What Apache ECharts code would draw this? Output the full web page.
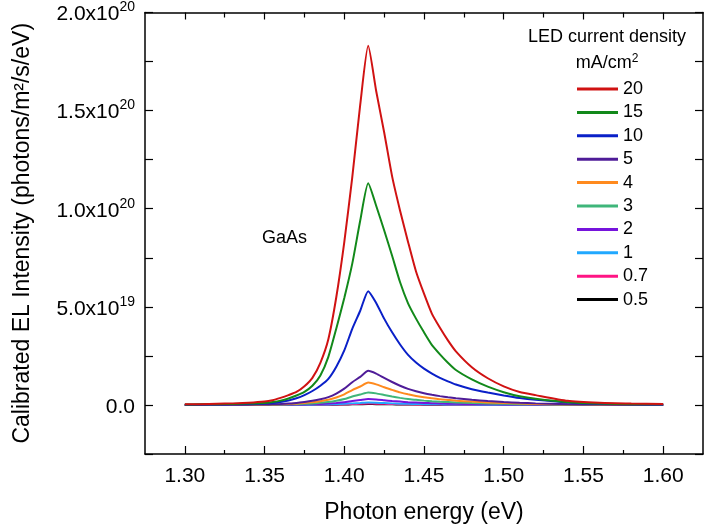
<!DOCTYPE html>
<html>
<head>
<meta charset="utf-8">
<title>GaAs calibrated electroluminescence spectra</title>
<script src="https://cdn.jsdelivr.net/npm/echarts@6/dist/echarts.min.js"></script>
<style>
  html, body { margin: 0; padding: 0; background: #fff; }
  #chart { width: 710px; height: 529px; }
</style>
</head>
<body>
<div id="chart"></div>
<script>
// Photon energy grid (eV): fine steps across the emission peak
const energy = [1.300, 1.310, 1.320, 1.330, 1.340, 1.350,
                1.355, 1.360, 1.365, 1.370, 1.375, 1.380, 1.385, 1.390, 1.395, 1.400,
                1.405, 1.410, 1.415, 1.420, 1.425, 1.430, 1.435, 1.440, 1.445, 1.450,
                1.455, 1.460, 1.465, 1.470,
                1.480, 1.490, 1.500, 1.510, 1.520, 1.540, 1.560, 1.580, 1.600];

// Calibrated EL intensity, in units of 1e19 photons/m^2/s/eV
const j20 = [0.03, 0.04, 0.06, 0.08, 0.11, 0.17,
             0.24, 0.36, 0.5, 0.66, 0.95, 1.38, 2.15, 3.35, 5.5, 8.3,
             11.6, 15.3, 18.3, 16.0, 13.9, 11.65, 9.9, 8.31, 6.8, 5.67,
             4.64, 3.93, 3.29, 2.73,
             1.92, 1.36, 0.95, 0.66, 0.5, 0.21, 0.11, 0.07, 0.05];
const j15 = [0.02, 0.03, 0.04, 0.05, 0.07, 0.1,
             0.15, 0.22, 0.33, 0.48, 0.67, 0.98, 1.5, 2.45, 3.9, 5.45,
             7.2, 9.4, 11.3, 10.15, 8.9, 7.6, 6.25, 5.18, 4.4, 3.7,
             3.05, 2.58, 2.15, 1.78,
             1.3, 0.93, 0.65, 0.44, 0.31, 0.14, 0.07, 0.04, 0.03];
const j10 = [0.01, 0.015, 0.02, 0.03, 0.05, 0.07,
             0.1, 0.15, 0.23, 0.34, 0.5, 0.71, 0.98, 1.33, 1.95, 2.78,
             3.88, 4.8, 5.8, 5.2, 4.4, 3.7, 3.08, 2.55, 2.16, 1.85,
             1.6, 1.38, 1.2, 1.04,
             0.8, 0.63, 0.48, 0.35, 0.26, 0.13, 0.06, 0.03, 0.02];
const j5 = [0.0, 0.004, 0.006, 0.009, 0.015, 0.021,
            0.03, 0.045, 0.07, 0.1, 0.15, 0.21, 0.29, 0.4, 0.58, 0.83,
            1.16, 1.43, 1.74, 1.6, 1.38, 1.17, 0.98, 0.82, 0.7, 0.6,
            0.52, 0.45, 0.39, 0.34,
            0.26, 0.2, 0.15, 0.11, 0.08, 0.04, 0.02, 0.01, 0.01];
const j4 = [0.0, 0.003, 0.004, 0.006, 0.01, 0.014,
            0.02, 0.03, 0.046, 0.066, 0.098, 0.14, 0.19, 0.26, 0.38, 0.54,
            0.76, 0.94, 1.14, 1.05, 0.9, 0.77, 0.64, 0.54, 0.46, 0.39,
            0.34, 0.29, 0.255, 0.22,
            0.17, 0.13, 0.1, 0.072, 0.052, 0.026, 0.013, 0.007, 0.007];
const j3 = [0.0, 0.001, 0.002, 0.003, 0.006, 0.008,
            0.011, 0.017, 0.026, 0.037, 0.055, 0.077, 0.107, 0.147, 0.21, 0.3,
            0.43, 0.53, 0.64, 0.59, 0.51, 0.43, 0.36, 0.3, 0.26, 0.22,
            0.19, 0.165, 0.145, 0.125,
            0.096, 0.074, 0.055, 0.04, 0.03, 0.015, 0.007, 0.004, 0.004];
const j2 = [0.0, 0.001, 0.001, 0.002, 0.003, 0.004,
            0.005, 0.008, 0.012, 0.017, 0.026, 0.036, 0.05, 0.069, 0.1, 0.14,
            0.2, 0.25, 0.3, 0.28, 0.24, 0.2, 0.17, 0.14, 0.12, 0.1,
            0.09, 0.077, 0.067, 0.058,
            0.045, 0.034, 0.026, 0.019, 0.014, 0.007, 0.003, 0.002, 0.002];
const j1 = [0.0, 0.0, 0.001, 0.001, 0.001, 0.002,
            0.002, 0.003, 0.005, 0.007, 0.01, 0.015, 0.02, 0.028, 0.04, 0.057,
            0.08, 0.1, 0.12, 0.11, 0.095, 0.08, 0.067, 0.057, 0.048, 0.041,
            0.036, 0.031, 0.027, 0.023,
            0.018, 0.014, 0.01, 0.008, 0.006, 0.003, 0.001, 0.001, 0.001];
const j07 = [0.0, 0.0, 0.0, 0.0, 0.001, 0.001,
             0.001, 0.002, 0.003, 0.004, 0.006, 0.009, 0.012, 0.016, 0.023, 0.033,
             0.046, 0.058, 0.07, 0.064, 0.055, 0.047, 0.039, 0.033, 0.028, 0.024,
             0.021, 0.018, 0.016, 0.014,
             0.01, 0.008, 0.006, 0.004, 0.003, 0.002, 0.001, 0.0, 0.0];
const j05 = [0.0, 0.0, 0.0, 0.0, 0.0, 0.001,
             0.001, 0.001, 0.002, 0.003, 0.004, 0.006, 0.008, 0.01, 0.015, 0.021,
             0.03, 0.037, 0.045, 0.041, 0.036, 0.03, 0.025, 0.021, 0.018, 0.015,
             0.013, 0.011, 0.01, 0.009,
             0.007, 0.005, 0.004, 0.003, 0.002, 0.001, 0.001, 0.0, 0.0];

// Current densities (mA/cm^2), listed as in the legend
const densities = ['20', '15', '10', '5', '4', '3', '2', '1', '0.7', '0.5'];
const spectra = [j20, j15, j10, j5, j4, j3, j2, j1, j07, j05];
const colors = ['#d01212', '#12891a', '#0a20c8', '#4f1c98', '#ff8a1e',
                '#3fb67a', '#7614dc', '#20a8ff', '#ff1484', '#000000'];

// Axis ticks
const xMajor = [1.30, 1.35, 1.40, 1.45, 1.50, 1.55, 1.60];
const xMinor = [1.325, 1.375, 1.425, 1.475, 1.525, 1.575];
const xTickLabels = ['1.30', '1.35', '1.40', '1.45', '1.50', '1.55', '1.60'];
const yTicks = [-2.5, 0, 2.5, 5, 7.5, 10, 12.5, 15, 17.5, 20];
const yLabelValues = [0, 5, 10, 15, 20];
const yLabelMantissa = ['0.0', '5.0x10', '1.0x10', '1.5x10', '2.0x10'];
const yLabelExponent = ['', '19', '20', '20', '20'];

const FONT = '"Liberation Sans", Arial, Helvetica, sans-serif';
const AXIS_COLOR = '#000';

const chart = echarts.init(document.getElementById('chart'), null, { renderer: 'canvas' });

function frameAxis(position, ticks, len, showLine) {
  return {
    type: 'value', position: position, min: 1.275, max: 1.625,
    axisLine: { show: showLine, onZero: false, lineStyle: { color: AXIS_COLOR, width: 1.5 } },
    axisTick: { show: true, inside: true, length: len, customValues: ticks,
                lineStyle: { color: AXIS_COLOR, width: 1.2 } },
    axisLabel: { show: false },
    splitLine: { show: false }
  };
}

const xAxes = [
  {
    type: 'value', position: 'bottom', min: 1.275, max: 1.625,
    name: 'Photon energy (eV)', nameLocation: 'middle', nameGap: 47,
    nameTextStyle: { fontSize: 23, color: '#000', fontFamily: FONT },
    axisLine: { show: true, onZero: false, lineStyle: { color: AXIS_COLOR, width: 1.5 } },
    axisTick: { show: true, inside: true, length: 8, customValues: xMajor,
                lineStyle: { color: AXIS_COLOR, width: 1.2 } },
    axisLabel: {
      show: true, customValues: xMajor, margin: 12, fontSize: 21, color: '#000', fontFamily: FONT,
      formatter: function (v) {
        const i = xMajor.findIndex(function (t) { return Math.abs(t - v) < 1e-6; });
        return i >= 0 ? xTickLabels[i] : '';
      }
    },
    splitLine: { show: false }
  },
  frameAxis('bottom', xMinor, 4, false),
  frameAxis('top', xMajor, 7, true),
  frameAxis('top', xMinor, 5, false)
];

const yAxes = [
  {
    type: 'value', position: 'left', min: -2.5, max: 20,
    name: 'Calibrated EL Intensity (photons/m\u00B2/s/eV)', nameLocation: 'middle', nameGap: 111,
    nameTextStyle: { fontSize: 23, color: '#000', fontFamily: FONT },
    axisLine: { show: true, onZero: false, lineStyle: { color: AXIS_COLOR, width: 1.5 } },
    axisTick: { show: true, inside: true, length: 8, customValues: yTicks,
                lineStyle: { color: AXIS_COLOR, width: 1.2 } },
    axisLabel: {
      show: true, customValues: yLabelValues, margin: 10, color: '#000', fontFamily: FONT,
      formatter: function (v) {
        const i = yLabelValues.findIndex(function (t) { return Math.abs(t - v) < 1e-6; });
        if (i < 0) return '';
        return yLabelExponent[i] ? '{m|' + yLabelMantissa[i] + '}{e|' + yLabelExponent[i] + '}'
                                 : '{m|' + yLabelMantissa[i] + '}';
      },
      rich: {
        m: { fontSize: 21, lineHeight: 24, padding: [4, 0, 0, 0], fontFamily: FONT, color: '#000' },
        e: { fontSize: 14, lineHeight: 14, verticalAlign: 'top', fontFamily: FONT, color: '#000' }
      }
    },
    splitLine: { show: false }
  },
  {
    type: 'value', position: 'right', min: -2.5, max: 20,
    axisLine: { show: true, onZero: false, lineStyle: { color: AXIS_COLOR, width: 1.5 } },
    axisTick: { show: true, inside: true, length: 8, customValues: yTicks,
                lineStyle: { color: AXIS_COLOR, width: 1.2 } },
    axisLabel: { show: false },
    splitLine: { show: false }
  }
];

// Lowest current first so the brightest spectrum is drawn on top
const series = [];
for (let k = spectra.length - 1; k >= 0; k--) {
  series.push({
    name: densities[k],
    type: 'line',
    xAxisIndex: 0,
    yAxisIndex: 0,
    showSymbol: false,
    symbol: 'none',
    smooth: 0.2,
    color: colors[k],
    lineStyle: { color: colors[k], width: 2 },
    data: energy.map(function (e, i) { return [e, spectra[k][i]]; }),
    z: 3
  });
}

chart.setOption({
  animation: false,
  backgroundColor: '#fff',
  textStyle: { fontFamily: FONT },
  grid: { left: 145, top: 10, width: 558, height: 447, containLabel: false },
  xAxis: xAxes,
  yAxis: yAxes,
  legend: {
    data: densities,
    orient: 'vertical',
    left: 577,
    top: 80,
    padding: 0,
    icon: 'rect',
    itemWidth: 41,
    itemHeight: 3,
    itemGap: 5.4,
    selectedMode: false,
    textStyle: { fontSize: 18, lineHeight: 18, color: '#000', fontFamily: FONT }
  },
  graphic: [
    {
      type: 'text', x: 607, y: 37,
      style: { text: 'LED current density', fontSize: 18, fontFamily: FONT, fill: '#000',
               align: 'center', verticalAlign: 'middle' }
    },
    {
      type: 'text', x: 607, y: 63,
      style: {
        text: '{a|mA/cm}{b|2}', align: 'center', verticalAlign: 'middle',
        rich: {
          a: { fontSize: 18, lineHeight: 20, fontFamily: FONT, fill: '#000' },
          b: { fontSize: 12, lineHeight: 12, verticalAlign: 'top', fontFamily: FONT, fill: '#000' }
        }
      }
    },
    {
      type: 'text', x: 262, y: 238,
      style: { text: 'GaAs', fontSize: 18, fontFamily: FONT, fill: '#000',
               align: 'left', verticalAlign: 'middle' }
    }
  ],
  series: series
});
</script>
</body>
</html>
